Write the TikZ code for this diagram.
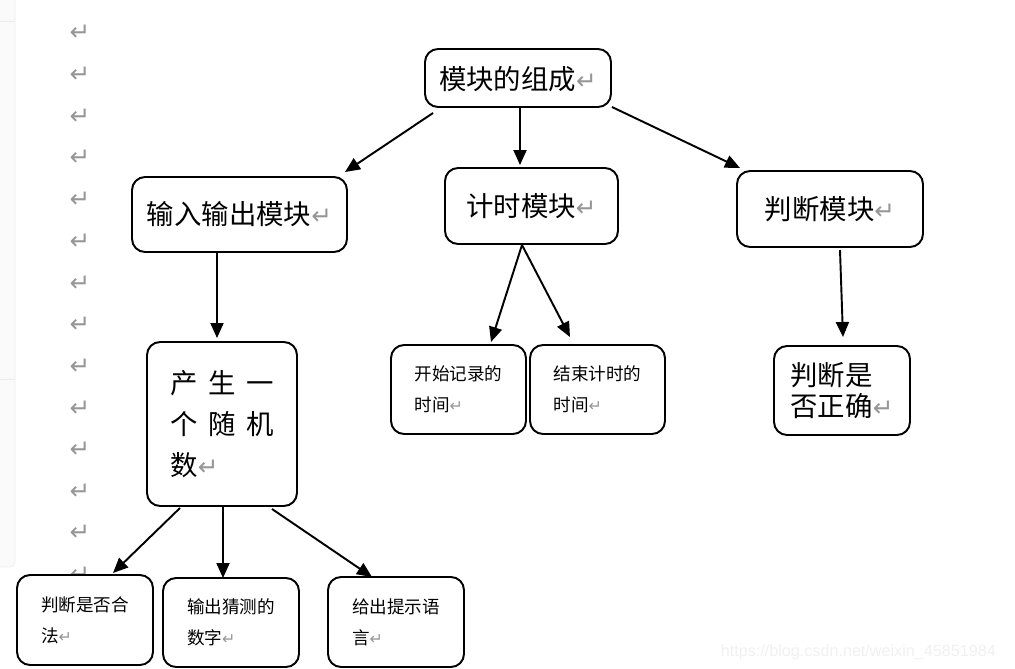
\documentclass[tikz,border=0pt]{standalone}
\usepackage{fontspec}
\setmainfont{Noto Sans CJK SC}
\newfontfamily\symfont{DejaVu Sans}
\newfontfamily\markfont{Liberation Sans}
\usetikzlibrary{arrows.meta}
\definecolor{retgray}{RGB}{150,150,150}
\newcommand{\ret}{{\color{retgray}\symfont\scalebox{0.9}{↵}}}

\begin{document}
\begin{tikzpicture}
  [x=0.02cm,y=-0.02cm,
   box/.style={draw,rounded corners=0.26cm,line width=1.1pt,fill=white,
     inner sep=0pt,outer sep=0pt,align=left},
   big/.style={font=\fontsize{15.6}{17.6}\selectfont},
   small/.style={font=\fontsize{10}{17.6}\selectfont},
   arrow/.style={line width=1.1pt,-{Triangle[length=0.3cm,width=0.26cm]}},
  ]
  \useasboundingbox (0,0) rectangle (1015,669);
  \filldraw[fill=gray!4,draw=gray!15,rounded corners=3pt] (-5,-5) rectangle (15,567);
  \draw[gray!15] (0,21) -- (15,21) (0,379) -- (15,379);
  \foreach \y in {33,75,117,158,200,242,284,325,367,409,450,492,533,575}
    \node[big] (m\y) at (80,\y) {\ret};

  \node[box,big,minimum width=3.72cm,minimum height=1.16cm,text depth=-0.1cm] (n0) at (518,78)  {模块的组成\ret};

  \node[box,big,minimum width=4.30cm,minimum height=1.50cm] (n1) at (239.5,214.5) {输入输出模块\ret};
  \node[box,big,minimum width=3.46cm,minimum height=1.52cm] (n2) at (531.5,206)   {计时模块\ret};
  \node[box,big,minimum width=3.72cm,minimum height=1.52cm] (n3) at (830,209)     {判断模块\ret};

  \node[box,font=\fontsize{15.6}{23.2}\selectfont,minimum width=3.00cm,minimum height=3.28cm] (n4) at (222,424)
    {产\hspace{5.9pt}生\hspace{5.9pt}一\\个\hspace{5.9pt}随\hspace{5.9pt}机\\数\ret};
  \node[box,small,minimum width=2.70cm,minimum height=1.78cm] (n5) at (458.5,389.5) {开始记录的\\时间\ret};
  \node[box,small,minimum width=2.70cm,minimum height=1.78cm] (n6) at (597.5,389.5) {结束计时的\\时间\ret};
  \node[box,big,minimum width=2.72cm,minimum height=1.78cm] (n7) at (842,390.5)    {判断是\\否正确\ret};

  \node[box,small,minimum width=2.72cm,minimum height=1.80cm] (n8)  at (85,620)    {判断是否合\\法\ret};
  \node[box,small,minimum width=2.72cm,minimum height=1.78cm] (n9)  at (231,622.5) {输出猜测的\\数字\ret};
  \node[box,small,minimum width=2.72cm,minimum height=1.80cm] (n10) at (396,622)   {给出提示语\\言\ret};

  \path[arrow] ([shift={(8,6)}]n0.south west) edge ([shift={(-2,-5)}]n1.north east)
               ([shift={(2,1)}]n0.south) edge ([shift={(-11.5,-3)}]n2.north)
               ([shift={(1,0)}]n0.south east) edge ([shift={(3,-3)}]n3.north west)
               ([shift={(-22.5,1)}]n1.south) edge ([shift={(-5,-4)}]n4.north)
               ([shift={(-9.5,1)}]n2.south) edge ([shift={(-35,-3)}]n5.north east)
               ([shift={(-9.5,1)}]n2.south) edge ([shift={(-27.5,-8)}]n6.north)
               ([shift={(10,3)}]n3.south) edge ([shift={(1,-9)}]n7.north)
               ([shift={(-42,2)}]n4.south) edge ([shift={(28,-2)}]n8.north)
               ([shift={(1,0)}]n4.south) edge ([shift={(-8,0)}]n9.north)
               ([shift={(50,3)}]n4.south) edge ([shift={(-24,0)}]n10.north);

  \node[anchor=east,text=gray!12,font=\markfont\fontsize{9.2}{10}\selectfont] (wm) at (1002,652)
    {https://blog.csdn.net/weixin\_45851984};
\end{tikzpicture}
\end{document}
